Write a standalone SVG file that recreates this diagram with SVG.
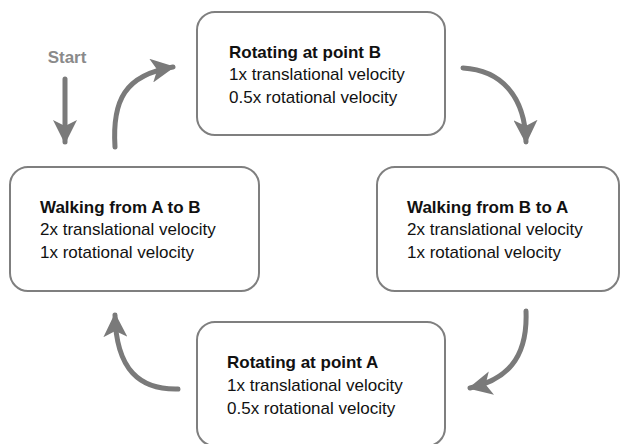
<svg xmlns="http://www.w3.org/2000/svg" width="622" height="444" viewBox="0 0 622 444">
<defs>
<style>
.box{fill:#fff;stroke:#7f7f7f;stroke-width:2}
.t{font-family:"Liberation Sans",Arial,sans-serif;font-size:17px;fill:#111}
.b{font-weight:bold}
.c{fill:none;stroke:#7a7a7a;stroke-width:5;stroke-linecap:round}
</style>
<marker id="ah" markerUnits="userSpaceOnUse" markerWidth="26" markerHeight="24" refX="22" refY="12" orient="auto" viewBox="0 0 26 24">
<path d="M0,0 L24,12 L0,24 L6,12 Z" fill="#7a7a7a"/>
</marker>
</defs>
<rect width="622" height="444" fill="#fff"/>
<g id="connectors">
<text x="67" y="63" text-anchor="middle" style="font-family:'Liberation Sans',Arial,sans-serif;font-size:17px;font-weight:bold;fill:#8a8a8a">Start</text>
<path class="c" d="M65,79 L65,142" marker-end="url(#ah)"/>
<path class="c" d="M115,147 C112,100 125,75 173,67" marker-end="url(#ah)"/>
<path class="c" d="M463,68 C500,70 525,95 526,142" marker-end="url(#ah)"/>
<path class="c" d="M526,311 C528,360 505,380 470,388" marker-end="url(#ah)"/>
<path class="c" d="M178,389 C140,390 116,370 115,315" marker-end="url(#ah)"/>
</g>
<g id="top">
<rect class="box" x="197" y="12" width="248" height="123" rx="18"/>
<text class="t b" x="229" y="58">Rotating at point B</text>
<text class="t" x="229" y="80">1x translational velocity</text>
<text class="t" x="229" y="103">0.5x rotational velocity</text>
</g>
<g id="left">
<rect class="box" x="10" y="167" width="249" height="124" rx="18"/>
<text class="t b" x="40" y="213">Walking from A to B</text>
<text class="t" x="40" y="235">2x translational velocity</text>
<text class="t" x="40" y="258">1x rotational velocity</text>
</g>
<g id="right">
<rect class="box" x="377" y="167" width="242" height="124" rx="18"/>
<text class="t b" x="407" y="213">Walking from B to A</text>
<text class="t" x="407" y="235">2x translational velocity</text>
<text class="t" x="407" y="258">1x rotational velocity</text>
</g>
<g id="bottom">
<rect class="box" x="197" y="322" width="248" height="124" rx="18"/>
<text class="t b" x="227" y="368">Rotating at point A</text>
<text class="t" x="227" y="391">1x translational velocity</text>
<text class="t" x="227" y="414">0.5x rotational velocity</text>
</g>
</svg>
